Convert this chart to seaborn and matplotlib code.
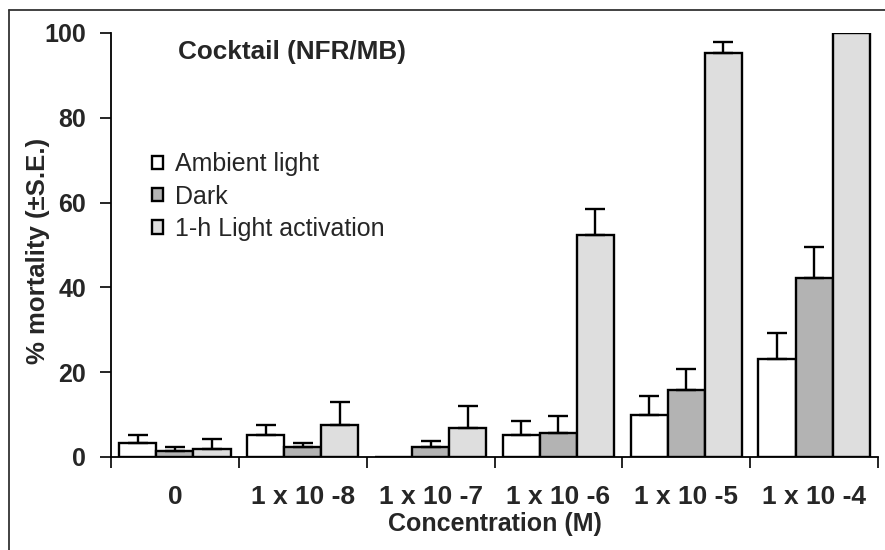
import matplotlib
matplotlib.use("Agg")
import matplotlib.pyplot as plt
import seaborn as sns
import pandas as pd
import numpy as np
from matplotlib.lines import Line2D
from matplotlib.ticker import FixedLocator

concentrations = ["0", "1 x 10 -8", "1 x 10 -7", "1 x 10 -6", "1 x 10 -5", "1 x 10 -4"]
conditions = ["Ambient light", "Dark", "1-h Light activation"]
ambient = [3.4, 5.3, 0.0, 5.2, 10.0, 23.0]
ambient_se = [1.8, 2.3, 0.0, 3.4, 4.4, 6.3]
dark = [1.4, 2.4, 2.4, 5.7, 15.8, 42.3]
dark_se = [1.0, 1.0, 1.4, 3.9, 4.9, 7.2]
light = [1.9, 7.6, 6.8, 52.3, 95.2, 100.0]
light_se = [2.3, 5.4, 5.2, 6.2, 2.7, 0.0]
y_ticks = [0, 20, 40, 60, 80, 100]

values = {"Ambient light": ambient, "Dark": dark, "1-h Light activation": light}
errors = {"Ambient light": ambient_se, "Dark": dark_se, "1-h Light activation": light_se}
rows = []
for cond in conditions:
    for c, v, e in zip(concentrations, values[cond], errors[cond]):
        rows.append({"Concentration": c, "Condition": cond, "Mortality": v, "SE": e})
df = pd.DataFrame(rows)

sns.set_theme(style="white")
plt.rcParams["font.family"] = ["Liberation Sans", "DejaVu Sans"]

fig = plt.figure(figsize=(8.85, 5.5), dpi=100)
ax = fig.add_axes([111 / 885, 1 - 457 / 550, (878 - 111) / 885, (457 - 33) / 550])

palette = {"Ambient light": "#ffffff", "Dark": "#b3b3b3", "1-h Light activation": "#dedede"}
sns.barplot(data=df, x="Concentration", y="Mortality", hue="Condition",
            order=concentrations, hue_order=conditions, palette=palette,
            errorbar=None, width=0.87, gap=0, edgecolor="black", linewidth=1.7,
            saturation=1, ax=ax)

# error bars (upper only) from the bar containers
for cont, cond in zip(ax.containers, conditions):
    se = errors[cond]
    for bar, e in zip(cont.patches, se):
        if e <= 0:
            continue
        xc = bar.get_x() + bar.get_width() / 2
        h = bar.get_height()
        ax.errorbar([xc], [h], yerr=[[0], [e]], fmt="none", ecolor="black",
                    elinewidth=1.7, capsize=7, capthick=1.7, zorder=1)

ax.set_xlim(-0.5, len(concentrations) - 0.5)
ax.set_ylim(0, 100)
ax.set_yticks(y_ticks)
ax.set_yticklabels([str(t) for t in y_ticks], fontsize=18, fontweight="bold")
ax.set_xticks(range(len(concentrations)))
ax.set_xticklabels(concentrations, fontsize=19, fontweight="bold")
ax.xaxis.set_minor_locator(FixedLocator(np.arange(-0.5, len(concentrations), 1.0)))
ax.tick_params(axis="x", which="major", length=0, pad=20)
ax.tick_params(axis="x", which="minor", length=8, width=1.2, color="black", direction="out", bottom=True)
ax.tick_params(axis="y", which="major", length=8, width=1.2, color="black", direction="out", left=True, pad=10)

for s in ["top", "right"]:
    ax.spines[s].set_visible(False)
for s in ["left", "bottom"]:
    ax.spines[s].set_color("black")
    ax.spines[s].set_linewidth(1.3)

ax.set_xlabel("Concentration (M)", fontsize=18, fontweight="bold")
ax.xaxis.set_label_coords(0.5, -0.13)
ax.set_ylabel("% mortality (±S.E.)", fontsize=18.5, fontweight="bold")
ax.yaxis.set_label_coords(-0.08, 0.486)

ax.text((178 - 111) / 767, (457 - 52) / 424, "Cocktail (NFR/MB)", transform=ax.transAxes,
        fontsize=18.8, fontweight="bold", ha="left", va="center")

handles, labels = ax.get_legend_handles_labels()
ax.legend(handles, labels, loc="upper left", bbox_to_anchor=(0.04, 0.742),
          frameon=False, fontsize=18, handlelength=0.45, handleheight=0.45,
          handletextpad=0.5, labelspacing=0.33, borderaxespad=0)

# figure frame (left and top edges visible)
fig.add_artist(Line2D([9 / 885, 9 / 885], [0, 1 - 10 / 550], transform=fig.transFigure,
                      color="#333333", linewidth=1.3))
fig.add_artist(Line2D([9 / 885, 1], [1 - 10 / 550, 1 - 10 / 550], transform=fig.transFigure,
                      color="#333333", linewidth=1.3))

fig.savefig("out.png", dpi=100)
